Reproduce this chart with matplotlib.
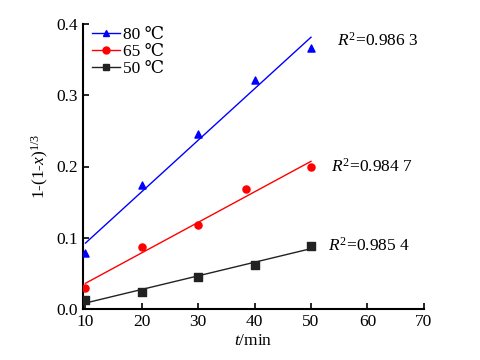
import numpy as np
import matplotlib
matplotlib.use('Agg')
import matplotlib.pyplot as plt

plt.rcParams['font.family'] = ['Liberation Serif', 'DejaVu Serif', 'Noto Sans CJK SC']
plt.rcParams['mathtext.fontset'] = 'custom'
plt.rcParams['mathtext.rm'] = 'Liberation Serif'
plt.rcParams['mathtext.it'] = 'Liberation Serif:italic'

#==============================================================================
# Data
#==============================================================================
t80 = [10, 20, 30, 40, 50]
y80 = [0.078, 0.174, 0.246, 0.321, 0.366]
t65 = [10, 20, 30, 38.5, 50]
y65 = [0.029, 0.0866, 0.118, 0.168, 0.200]
t50 = [10, 20, 30, 40, 50]
y50 = [0.0126, 0.0234, 0.0454, 0.0618, 0.0889]
r2_labels = ['0.986 3', '0.984 7', '0.985 4']

series = [
    (t80, y80, 'b', '^', '80 ℃'),
    (t65, y65, 'r', 'o', '65 ℃'),
    (t50, y50, '#222222', 's', '50 ℃'),
]

#==============================================================================
# Plot
#==============================================================================
fig = plt.figure(figsize=(4.81, 3.6), dpi=100)
ax = fig.add_axes([0.173, 0.142, 0.708, 0.791])

# text anchor for each R^2 label (data coords)
r2_xy = [(54.6, 0.377), (53.6, 0.199), (53.0, 0.088)]

for t, y, c, m, lab in series:
    ax.scatter(t, y, color=c, marker=m, s=26, zorder=3)
    k, b = np.polyfit(t, y, 1)
    tt = np.array([10, 50])
    ax.plot(tt, k * tt + b, color=c, linewidth=1)
    # legend handle only
    ax.plot([], [], color=c, marker=m, markersize=5, linewidth=1, label=lab)

for lab, (xx, yy) in zip(r2_labels, r2_xy):
    ax.text(xx, yy, '$\\mathit{R}^{2}$=' + lab, fontsize=12.5,
            va='center', ha='left')

ax.set_xlim(9.6, 70)
ax.set_ylim(0, 0.4)
ax.set_xticks([10, 20, 30, 40, 50, 60, 70])
ax.set_yticks([0.0, 0.1, 0.2, 0.3, 0.4])
ax.set_yticklabels(['0.0', '0.1', '0.2', '0.3', '0.4'])
ax.spines['top'].set_visible(False)
ax.spines['right'].set_visible(False)
ax.spines['left'].set_linewidth(1.5)
ax.spines['bottom'].set_linewidth(1.5)
ax.tick_params(direction='in', length=4, width=1.2, labelsize=12.5)
ax.set_xlabel('$\\mathit{t}$/min', fontsize=12.5, labelpad=2)
ax.set_ylabel('1-(1-$\\mathit{x}$)$^{1/3}$', fontsize=12.5, labelpad=4)

ax.legend(loc='upper left', frameon=False, fontsize=12.5, handlelength=1.6,
          handletextpad=0.2, labelspacing=0.05, borderaxespad=0.1,
          bbox_to_anchor=(0.0, 1.02))

fig.savefig('out.png', dpi=100)
